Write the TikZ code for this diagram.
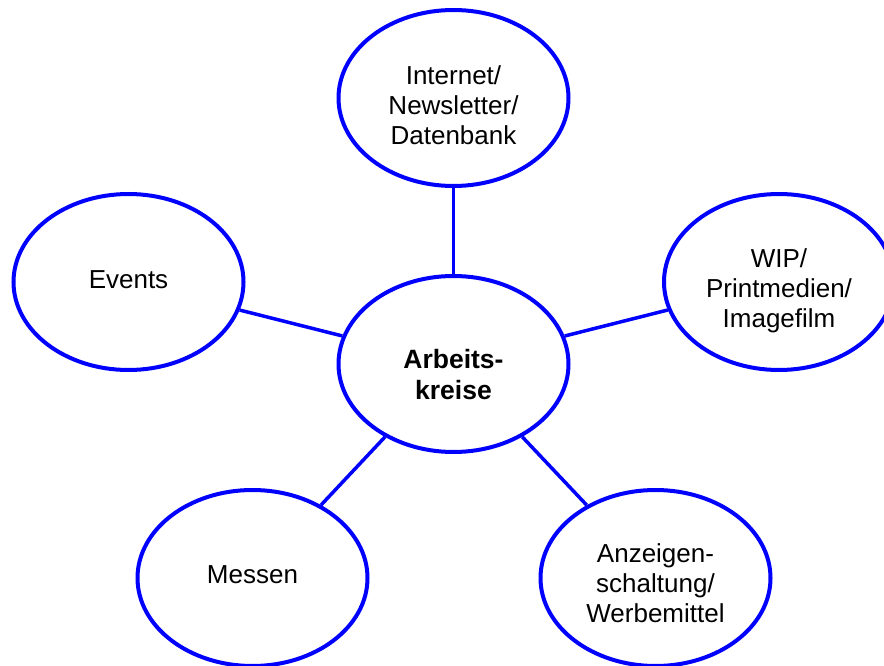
\documentclass[tikz,border=0pt]{standalone}
\usepackage{fontspec}
\setmainfont{Liberation Sans}
\usetikzlibrary{shapes.geometric}
\definecolor{ringblue}{RGB}{0,0,255}
\begin{document}
\begin{tikzpicture}[x=1pt,y=-1pt,
  topic/.style={ellipse, draw=ringblue, line width=4pt, inner sep=0pt,
    minimum width=230pt, minimum height=176pt},
  % caption set inside an ellipse, lowered by the given amount
  caption/.style={align=center, yshift=-#1, inner sep=0pt,
    font=\fontsize{26}{30}\selectfont},
  hubcaption/.style={caption=#1, font=\fontsize{26.5}{31}\selectfont\bfseries},
  link/.style={draw=ringblue, line width=3.5pt}]
  \useasboundingbox (0,0) rectangle (884,666);

  \node[topic, label={[hubcaption=11pt]center:Arbeits-\\kreise}]
    (hub) at (453.5,364) {};
  \node[topic, label={[caption=7pt]center:Internet/\\Newsletter/\\Datenbank}]
    (web) at (453.5,98) {};
  \node[topic, label={[caption=-2pt]center:Events}]
    (events) at (128.5,282) {};
  \node[topic, label={[caption=9pt]center:WIP/\\Printmedien/\\Imagefilm}]
    (print) at (779,282) {};
  \node[topic, label={[caption=-3pt]center:Messen}]
    (fairs) at (252.5,578) {};
  \node[topic, label={[caption=5pt]center:Anzeigen-\\schaltung/\\Werbemittel}]
    (ads) at (655.5,578) {};

  \draw[link] (hub) -- (web);
  \draw[link] (hub) -- (events);
  \draw[link] (hub) -- (print);
  \draw[link] (hub) -- (fairs);
  \draw[link] (hub) -- (ads);
\end{tikzpicture}
\end{document}
